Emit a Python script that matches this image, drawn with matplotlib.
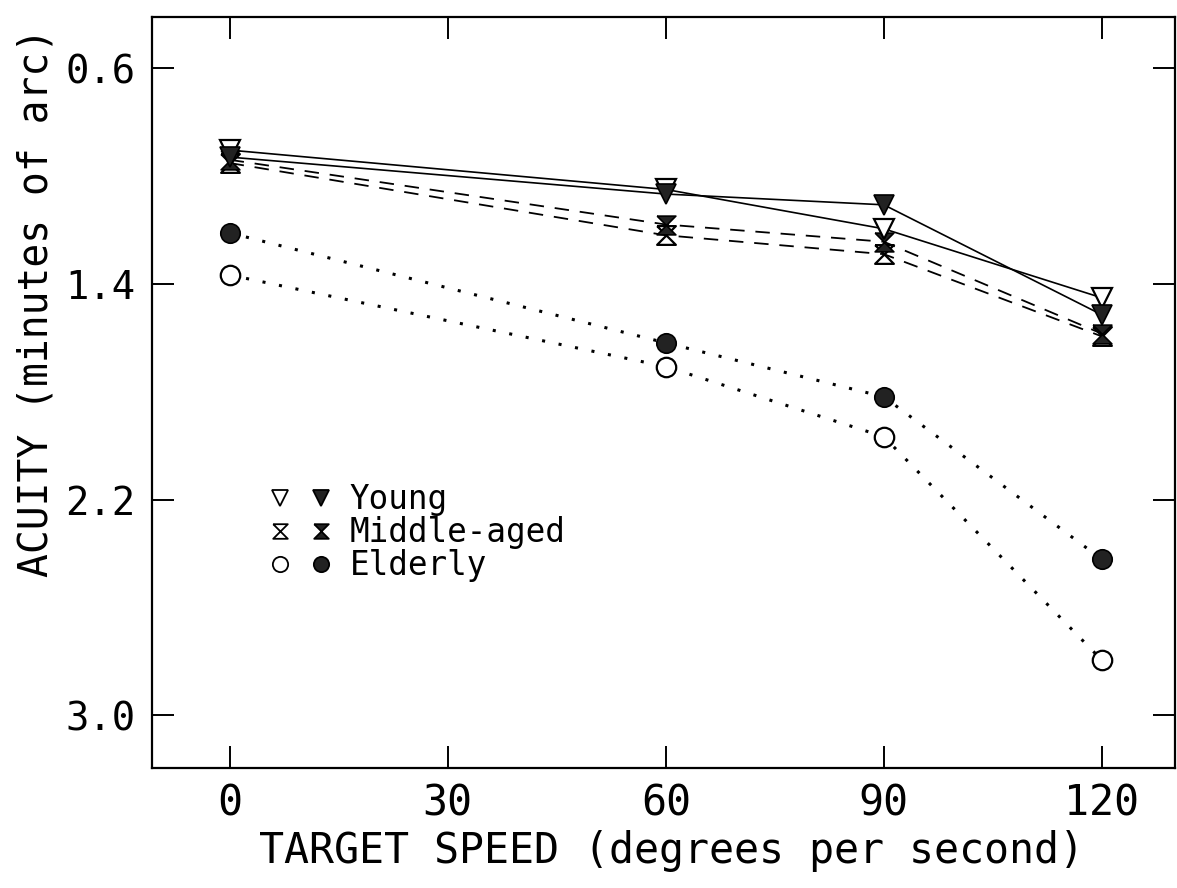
import matplotlib
matplotlib.use('Agg')
import matplotlib.pyplot as plt
from matplotlib.lines import Line2D
from matplotlib.legend_handler import HandlerTuple

# Target speed (degrees per second)
speed = [0, 60, 90, 120]

# Acuity (minutes of arc)
young_open = [0.904, 1.05, 1.196, 1.452]
young_filled = [0.93, 1.067, 1.107, 1.515]
middle_open = [0.952, 1.22, 1.29, 1.595]
middle_filled = [0.94, 1.18, 1.244, 1.585]
elderly_open = [1.367, 1.707, 1.967, 2.796]
elderly_filled = [1.211, 1.619, 1.819, 2.422]

xticks = [0, 30, 60, 90, 120]
yticks = [0.6, 1.4, 2.2, 3.0]
ytick_labels = ['0.6', '1.4', '2.2', '3.0']

plt.rcParams['font.family'] = ['DejaVu Sans Mono']

hourglass = [(-1, 1), (1, 1), (-1, -1), (1, -1), (-1, 1)]

fig = plt.figure(figsize=(11.77, 8.88), dpi=100)
ax = fig.add_axes([0.129, 0.135, 0.869, 0.846])

ms = 14
solid = dict(color='black', lw=1.2, linestyle='-')
dashed = dict(color='black', lw=1.3, linestyle=(0, (8, 6)))
dotted = dict(color='black', lw=2.2, linestyle=(0, (1, 4.5)))

ax.plot(speed, elderly_open, marker='o', ms=ms, mfc='white', mec='black', mew=1.6, **dotted)
ax.plot(speed, elderly_filled, marker='o', ms=ms, mfc='#222222', mec='black', mew=1.2, **dotted)
ax.plot(speed, middle_open, marker=hourglass, ms=13.5, mfc='white', mec='black', mew=1.6, **dashed)
ax.plot(speed, middle_filled, marker=hourglass, ms=13.5, mfc='#222222', mec='black', mew=1.2, **dashed)
ax.plot(speed, young_open, marker='v', ms=ms, mfc='white', mec='black', mew=1.6, **solid)
ax.plot(speed, young_filled, marker='v', ms=ms, mfc='#222222', mec='black', mew=1.2, **solid)

ax.set_xlim(-10.7, 130)
ax.set_ylim(3.196, 0.41)

ax.set_xticks(xticks)
ax.set_yticks(yticks)
ax.set_yticklabels(ytick_labels)
ax.tick_params(direction='in', length=16, width=1.4, labelsize=30,
               top=True, right=True)
ax.tick_params(axis='x', pad=10)
ax.tick_params(axis='y', pad=12, labelsize=28)
for s in ax.spines.values():
    s.set_linewidth(1.6)

ax.set_xlabel('TARGET SPEED (degrees per second)', fontsize=30)
ax.set_ylabel('ACUITY (minutes of arc)', fontsize=28.5)
ax.xaxis.set_label_coords(0.508, -0.083)
ax.yaxis.set_label_coords(-0.093, 0.62)

# Legend: open and filled marker side by side for each age group
def mk(marker, face, size):
    return Line2D([], [], linestyle='none', marker=marker, ms=size, mfc=face,
                  mec='black', mew=1.3)

handles = [
    (mk('v', 'white', 11), mk('v', '#222222', 11)),
    (mk(hourglass, 'white', 10.5), mk(hourglass, '#222222', 10.5)),
    (mk('o', 'white', 11), mk('o', '#222222', 11)),
]
labels = ['Young', 'Middle-aged', 'Elderly']
ax.legend(handles, labels, handler_map={tuple: HandlerTuple(ndivide=None, pad=0.5)},
          loc='upper left', bbox_to_anchor=(0.085, 0.418), frameon=False,
          fontsize=23.5, handlelength=2.0, handletextpad=0.5, labelspacing=0.0)

fig.savefig('out.png', dpi=100)
